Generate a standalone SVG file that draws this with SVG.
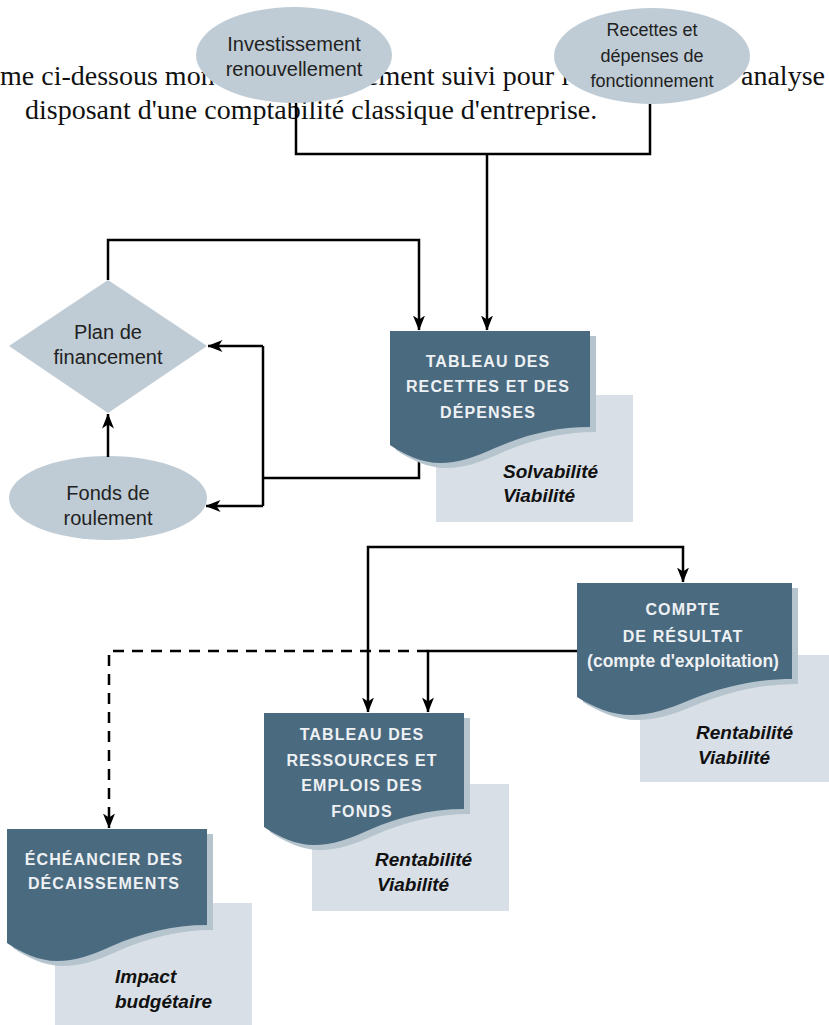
<svg xmlns="http://www.w3.org/2000/svg" width="829" height="1025" viewBox="0 0 829 1025">
<defs>
<style>
.bg{font-family:"Liberation Serif","Times New Roman",serif;font-size:28px;fill:#111}
.lbl{font-family:"Liberation Sans",Arial,sans-serif;font-size:20px;fill:#222;text-anchor:middle}
.lbl2{font-family:"Liberation Sans",Arial,sans-serif;font-size:18px;fill:#222;text-anchor:middle}
.ttl{font-family:"Liberation Sans",Arial,sans-serif;font-size:16px;font-weight:bold;fill:#eef1f3;text-anchor:middle;letter-spacing:1.1px}
.ttl2{font-family:"Liberation Sans",Arial,sans-serif;font-size:17.5px;font-weight:bold;fill:#eef1f3;text-anchor:middle}
.cap{font-family:"Liberation Sans",Arial,sans-serif;font-size:19px;font-weight:bold;font-style:italic;fill:#111}
.soft{fill:#bfccd5}
.doc{fill:#4a6a80}
.shadow{fill:#b6c4cd}
.capbox{fill:#d8dfe6}
.conn{fill:none;stroke:#000;stroke-width:2.5;stroke-linejoin:miter}
.dash{stroke-dasharray:11 8}
</style>
<path id="docshape" d="M0,0 H200 V96 C165,96 135,104 105,117 C85,126 68,132 50,132 C32,132 15,124 0,114 Z"/>
<marker id="arr" viewBox="0 0 15 12" refX="14.5" refY="6" markerWidth="15" markerHeight="12" markerUnits="userSpaceOnUse" orient="auto-start-reverse">
<path d="M0,0 L15,6 L0,12 L4,6 Z" fill="#000"/>
</marker>
</defs>
<rect width="829" height="1025" fill="#fff"/>

<g id="background-text">
<text class="bg" x="0" y="85">me ci-dessous mon</text>
<text class="bg" x="366" y="85">ement suivi pour l</text>
<text class="bg" x="741" y="85">analyse</text>
<text class="bg" x="25" y="119">disposant d'une comptabilité classique d'entreprise.</text>
</g>

<g id="n-investissement">
<ellipse class="soft" cx="294" cy="55" rx="98" ry="48"/>
<text class="lbl" x="294" y="51">Investissement</text>
<text class="lbl" x="294" y="76">renouvellement</text>
</g>
<g id="n-recettes-fonct">
<ellipse class="soft" cx="652" cy="56" rx="98" ry="48"/>
<text class="lbl2" x="652" y="36">Recettes et</text>
<text class="lbl2" x="652" y="62">dépenses de</text>
<text class="lbl2" x="652" y="87">fonctionnement</text>
</g>
<g id="n-plan">
<polygon class="soft" points="9,346 108,280 207,346 108,413"/>
<text class="lbl" x="108" y="339">Plan de</text>
<text class="lbl" x="108" y="364">financement</text>
</g>
<g id="n-fonds">
<ellipse class="soft" cx="108" cy="498" rx="99" ry="42"/>
<text class="lbl" x="108" y="500">Fonds de</text>
<text class="lbl" x="108" y="525">roulement</text>
</g>

<g id="connectors">
<path class="conn" d="M296,103 V154 H650 V104"/>
<path class="conn" d="M487,154 V330" marker-end="url(#arr)"/>
<path class="conn" d="M108,280 V240 H419 V330" marker-end="url(#arr)"/>
<path class="conn" d="M108,457 V414" marker-end="url(#arr)"/>
<path class="conn" d="M419,455 V478 H263"/>
<path class="conn" d="M263,346 V506"/>
<path class="conn" d="M263,346 H208" marker-end="url(#arr)"/>
<path class="conn" d="M263,506 H206" marker-end="url(#arr)"/>
<path class="conn" d="M368,712 V547 H683 V582" marker-start="url(#arr)" marker-end="url(#arr)"/>
<path class="conn" d="M580,651 H428 V712" marker-end="url(#arr)"/>
<path class="conn dash" d="M428,651 H109 V828" marker-end="url(#arr)"/>
</g>

<g id="n-tableau-recettes">
<rect class="capbox" x="436" y="395" width="197" height="127"/>
<use href="#docshape" class="shadow" transform="translate(396,336)"/>
<use href="#docshape" class="doc" transform="translate(390,331)"/>
<text class="ttl" x="488" y="367">TABLEAU DES</text>
<text class="ttl" x="488" y="392">RECETTES ET DES</text>
<text class="ttl" x="488" y="418">DÉPENSES</text>
<text class="cap" x="503" y="478">Solvabilité</text>
<text class="cap" x="503" y="502">Viabilité</text>
</g>

<g id="n-compte">
<rect class="capbox" x="640" y="655" width="189" height="127"/>
<use href="#docshape" class="shadow" transform="translate(583,588) scale(1.075,1)"/>
<use href="#docshape" class="doc" transform="translate(577,583) scale(1.075,1)"/>
<text class="ttl" x="683" y="615">COMPTE</text>
<text class="ttl" x="683" y="642">DE RÉSULTAT</text>
<text class="ttl2" x="683" y="667">(compte d'exploitation)</text>
<text class="cap" x="696" y="739">Rentabilité</text>
<text class="cap" x="698" y="764">Viabilité</text>
</g>

<g id="n-tableau-ressources">
<rect class="capbox" x="312" y="784" width="197" height="127"/>
<use href="#docshape" class="shadow" transform="translate(270,718)"/>
<use href="#docshape" class="doc" transform="translate(264,713)"/>
<text class="ttl" x="362" y="740">TABLEAU DES</text>
<text class="ttl" x="362" y="766">RESSOURCES ET</text>
<text class="ttl" x="362" y="791">EMPLOIS DES</text>
<text class="ttl" x="362" y="817">FONDS</text>
<text class="cap" x="375" y="866">Rentabilité</text>
<text class="cap" x="377" y="891">Viabilité</text>
</g>

<g id="n-echeancier">
<rect class="capbox" x="55" y="903" width="197" height="122"/>
<use href="#docshape" class="shadow" transform="translate(13,834)"/>
<use href="#docshape" class="doc" transform="translate(7,829)"/>
<text class="ttl" x="104" y="865">ÉCHÉANCIER DES</text>
<text class="ttl" x="104" y="889">DÉCAISSEMENTS</text>
<text class="cap" x="115" y="983">Impact</text>
<text class="cap" x="115" y="1008">budgétaire</text>
</g>
</svg>
